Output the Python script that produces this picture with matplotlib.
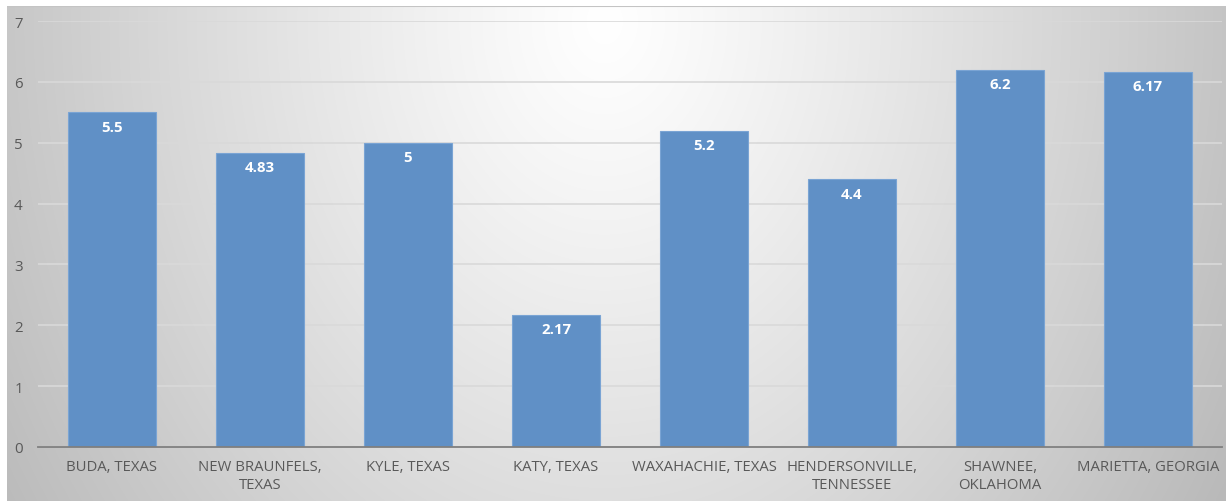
import numpy as np
import matplotlib
matplotlib.use("Agg")
import matplotlib.pyplot as plt

categories = ["BUDA, TEXAS", "NEW BRAUNFELS,\nTEXAS", "KYLE, TEXAS", "KATY, TEXAS",
              "WAXAHACHIE, TEXAS", "HENDERSONVILLE,\nTENNESSEE", "SHAWNEE,\nOKLAHOMA",
              "MARIETTA, GEORGIA"]
values = [5.5, 4.83, 5, 2.17, 5.2, 4.4, 6.2, 6.17]
labels = ["5.5", "4.83", "5", "2.17", "5.2", "4.4", "6.2", "6.17"]
yticks = [0, 1, 2, 3, 4, 5, 6, 7]

plt.rcParams['font.family'] = ['Open Sans', 'DejaVu Sans']

W, H = 1226, 502
fig = plt.figure(figsize=(W / 100, H / 100), dpi=100)
fig.patch.set_facecolor("white")

# background radial gradient (centre near top middle)
x0, y0 = 7, 7
bw, bh = W - x0, H - y0
bg = fig.add_axes([x0 / W, 0, bw / W, bh / H])
bg.set_axis_off()
px = np.arange(bw)
py = np.arange(bh)
XX, YY = np.meshgrid(px, py)
cx, cy = bw * 0.49, 15
d = np.sqrt(((XX - cx) / 600.0) ** 2 + ((YY - cy) / 760.0) ** 2)
img = np.clip(1.0 - 0.22 * d ** 1.15, 0, 1)
bg.imshow(np.dstack([img, img, img]), aspect="auto", extent=[0, 1, 0, 1],
          interpolation="bilinear", origin="upper")
bg.set_xlim(0, 1)
bg.set_ylim(0, 1)
bg.axhline(1, color="#c4c4c4", linewidth=1.5)

ax = fig.add_axes([38 / W, 1 - 448 / H, (1222 - 38) / W, (448 - 22) / H])
ax.patch.set_alpha(0)
x = np.arange(len(categories))
ax.bar(x, values, width=0.6, color="#6090c6", edgecolor="#7aa4d4", linewidth=0.8, zorder=3)
for xi, v, lab in zip(x, values, labels):
    ax.text(xi, v - 0.12, lab, ha="center", va="top", color="white",
            fontsize=10.8, fontweight="bold", zorder=4)

ax.set_xlim(-0.5, len(categories) - 0.5)
ax.set_ylim(0, 7)
ax.set_yticks(yticks)
ax.yaxis.grid(True, color="#d9d9d9", linewidth=1.2, zorder=0)
ax.set_axisbelow(True)
for s in ["top", "right", "left"]:
    ax.spines[s].set_visible(False)
ax.spines["bottom"].set_color("#7f7f7f")
ax.spines["bottom"].set_linewidth(1.3)
ax.spines["bottom"].set_zorder(5)
ax.set_xticks(x)
ax.set_xticklabels(categories, fontsize=10.7, color="#595959", linespacing=1.25)
ax.tick_params(axis="x", length=0, pad=9)
ax.tick_params(axis="y", length=0, pad=11, labelsize=10.8, labelcolor="#595959")

fig.savefig("out.png", dpi=100)
